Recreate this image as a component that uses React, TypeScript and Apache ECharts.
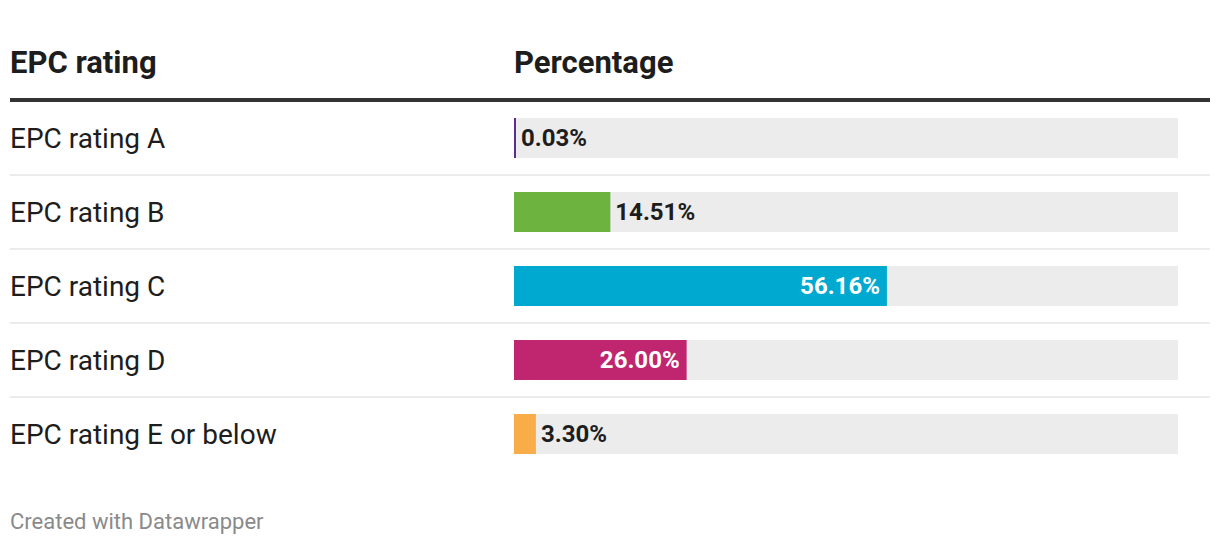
import React, { useEffect, useRef } from "react";
import * as echarts from "echarts";

const categories = [
  "EPC rating A",
  "EPC rating B",
  "EPC rating C",
  "EPC rating D",
  "EPC rating E or below",
];
const percentages = [0.03, 14.51, 56.16, 26.0, 3.3];
const barColors = ["#5c2d91", "#6db33f", "#00a9cf", "#c0266f", "#f9ad49"];
const headerLabels = ["EPC rating", "Percentage"];
const footerText = "Created with Datawrapper";

const FONT = "Roboto, 'Noto Sans', sans-serif";

export default function App() {
  const ref = useRef<HTMLDivElement>(null);
  useEffect(() => {
    if (!ref.current) return;
    const chart = echarts.init(ref.current, undefined, { renderer: "svg" });
    const insideThreshold = 20;
    const data = percentages.map((v, i) => {
      const inside = v > insideThreshold;
      return {
        value: v,
        itemStyle: { color: barColors[i] },
        label: {
          show: true,
          position: inside ? "insideRight" : "right",
          distance: inside ? 7 : 5,
          color: inside ? "#ffffff" : "#1d1d1d",
          fontFamily: FONT,
          fontWeight: "bold",
          fontSize: 24,
          formatter: (p: any) => p.value.toFixed(2) + "%",
        },
      };
    });
    const sepYs = [175, 249, 323, 397];
    chart.setOption({
      animation: false,
      grid: { left: 514, right: 42, top: 101, height: 370, containLabel: false },
      xAxis: {
        type: "value",
        min: 0,
        max: 100,
        show: false,
      },
      yAxis: {
        type: "category",
        data: categories,
        inverse: true,
        axisLine: { show: false },
        axisTick: { show: false },
        splitLine: { show: false },
        axisLabel: {
          align: "left",
          margin: 504,
          fontFamily: FONT,
          fontSize: 28,
          color: "#1d1d1d",
        },
      },
      series: [
        {
          type: "bar",
          data,
          barWidth: 40,
          barMinHeight: 2,
          showBackground: true,
          backgroundStyle: { color: "#ececec" },
        },
      ],
      graphic: [
        {
          type: "text",
          left: 10,
          top: 47,
          style: {
            text: headerLabels[0],
            fontFamily: FONT,
            fontWeight: "bold",
            fontSize: 31,
            fill: "#1d1d1d",
          },
        },
        {
          type: "text",
          left: 514,
          top: 47,
          style: {
            text: headerLabels[1],
            fontFamily: FONT,
            fontWeight: "bold",
            fontSize: 31,
            fill: "#1d1d1d",
          },
        },
        {
          type: "rect",
          shape: { x: 10, y: 98, width: 1200, height: 4 },
          style: { fill: "#333333" },
        },
        ...sepYs.map((y) => ({
          type: "rect",
          shape: { x: 10, y: y - 1, width: 1200, height: 2 },
          style: { fill: "#ebebeb" },
        })),
        {
          type: "text",
          left: 10,
          top: 510,
          style: {
            text: footerText,
            fontFamily: FONT,
            fontSize: 22,
            fill: "#8a8a8a",
          },
        },
      ],
    });
    return () => chart.dispose();
  }, []);
  return (
    <div
      ref={ref}
      style={{ position: "fixed", left: 0, top: 0, width: 1220, height: 546, background: "#fff" }}
    />
  );
}
